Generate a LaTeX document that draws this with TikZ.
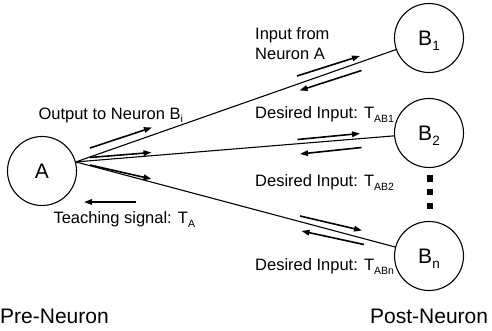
\documentclass[tikz,border=0pt]{standalone}
\usepackage{fontspec}
\setmainfont{Liberation Sans}
\usetikzlibrary{arrows.meta}
\newcommand\smsub[1]{\raisebox{-4pt}{\fontsize{10.5}{10.5}\selectfont #1}}
\newcommand\bgsub[1]{\raisebox{-5pt}{\fontsize{13.5}{13.5}\selectfont #1}}
\begin{document}
\begin{tikzpicture}[x=1pt,y=-1pt,
  neuron/.style={draw,circle,line width=1.1pt,minimum size=69pt,inner sep=0pt,
    font=\fontsize{21}{21}\selectfont,text height=15pt,text depth=0pt},
  conn/.style={line width=1.1pt},
  sig/.style={line width=1.6pt,-{Triangle[length=8pt,width=5.5pt]}},
  lbl/.style={anchor=base west,inner sep=0pt,font=\fontsize{16.5}{20}\selectfont},
  big/.style={anchor=base west,inner sep=0pt,font=\fontsize{21}{21}\selectfont},
  dotsq/.style={fill=black,draw=none}]
\useasboundingbox (0,0) rectangle (492,331);
\clip (0,0) rectangle (492,331);
% neurons
\node[neuron] (A)  at (42,171) {A};
\node[neuron] (B1) at (429,38)  {B\bgsub{1}};
\node[neuron] (B2) at (429,133) {B\bgsub{2}};
\node[neuron] (Bn) at (429,256) {B\bgsub{n}};
% connections
\draw[conn] (A.15) -- (B1);
\draw[conn] (A.15) -- (B2);
\draw[conn] (A.15) -- (Bn);
% signal arrows near A
\draw[sig] (90,148) -- (152,127.5);
\draw[sig] (90,157.5) -- (151.5,152.5);
\draw[sig] (90,165) -- (151.5,179);
\draw[sig] (136,202) -- (84,202);
% signal arrows near B1
\draw[sig] (297,76) -- (360,56);
\draw[sig] (361.5,70.5) -- (299.5,90.5);
% near B2
\draw[sig] (297.5,139.5) -- (360,133.5);
\draw[sig] (361.5,147.5) -- (300,154);
% near Bn
\draw[sig] (300,216) -- (362,230.5);
\draw[sig] (364,244.5) -- (301.5,231);
% dots
\fill[dotsq] (426.7,175) rectangle (433.3,181.6);
\fill[dotsq] (426.7,188.5) rectangle (433.3,195);
\fill[dotsq] (426.7,203) rectangle (433.3,208.5);
% labels
\node[lbl] (lout) at (38.3,120) {Output to Neuron B\raisebox{-3pt}{\fontsize{10.5}{10.5}\selectfont i}};
\node[lbl] (lteach) at (53.3,223) {Teaching signal: T\smsub{A}};
\node[lbl] (lin1) at (255,39.3) {Input from};
\node[lbl] (lin2) at (255,60) {Neuron A};
\node[lbl] (ld1) at (255,118.5) {Desired Input: T\smsub{AB1}};
\node[lbl] (ld2) at (255,186.5) {Desired Input: T\smsub{AB2}};
\node[lbl] (ldn) at (255,270) {Desired Input: T\smsub{ABn}};
\node[big] (pre) at (0,323) {Pre-Neuron};
\node[big] (post) at (370,323) {Post-Neuron};
\end{tikzpicture}
\end{document}
